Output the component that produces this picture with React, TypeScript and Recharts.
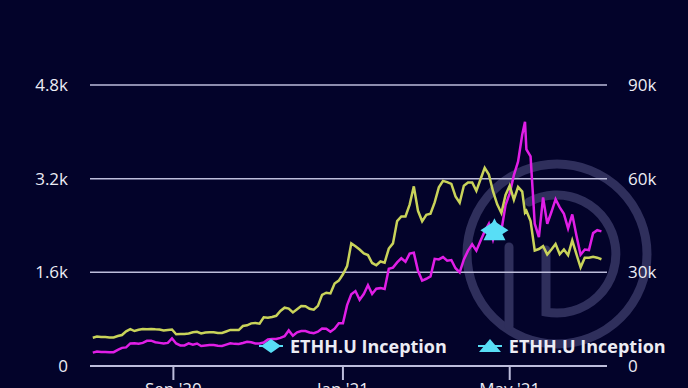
import React from 'react';
import { ComposedChart, Line, Scatter, XAxis, YAxis, CartesianGrid, Legend } from 'recharts';

const dates = [
  '2020-07-05', '2020-07-08', '2020-07-11', '2020-07-14', '2020-07-17', '2020-07-20', '2020-07-23', '2020-07-26', '2020-07-29',
  '2020-08-01', '2020-08-04', '2020-08-07', '2020-08-10', '2020-08-13', '2020-08-16', '2020-08-19', '2020-08-22', '2020-08-25', '2020-08-28', '2020-08-31',
  '2020-09-03', '2020-09-06', '2020-09-09', '2020-09-12', '2020-09-15', '2020-09-18', '2020-09-21', '2020-09-24', '2020-09-27', '2020-09-30',
  '2020-10-03', '2020-10-06', '2020-10-09', '2020-10-12', '2020-10-15', '2020-10-18', '2020-10-21', '2020-10-24', '2020-10-27', '2020-10-30',
  '2020-11-02', '2020-11-05', '2020-11-08', '2020-11-11', '2020-11-14', '2020-11-17', '2020-11-20', '2020-11-23', '2020-11-26', '2020-11-29',
  '2020-12-02', '2020-12-05', '2020-12-08', '2020-12-11', '2020-12-14', '2020-12-17', '2020-12-20', '2020-12-23', '2020-12-26', '2020-12-29',
  '2021-01-01', '2021-01-04', '2021-01-07', '2021-01-10', '2021-01-13', '2021-01-16', '2021-01-19', '2021-01-22', '2021-01-25', '2021-01-28', '2021-01-31',
  '2021-02-03', '2021-02-06', '2021-02-09', '2021-02-12', '2021-02-15', '2021-02-18', '2021-02-21', '2021-02-24', '2021-02-27',
  '2021-03-02', '2021-03-05', '2021-03-08', '2021-03-11', '2021-03-14', '2021-03-17', '2021-03-20', '2021-03-23', '2021-03-26', '2021-03-29',
  '2021-04-01', '2021-04-04', '2021-04-07', '2021-04-10', '2021-04-13', '2021-04-16', '2021-04-19', '2021-04-22', '2021-04-25', '2021-04-28',
  '2021-05-01', '2021-05-04', '2021-05-07', '2021-05-10', '2021-05-12', '2021-05-13', '2021-05-16', '2021-05-19', '2021-05-22', '2021-05-25', '2021-05-28', '2021-05-31',
  '2021-06-03', '2021-06-06', '2021-06-09', '2021-06-12', '2021-06-15', '2021-06-18', '2021-06-21', '2021-06-24', '2021-06-27', '2021-06-30',
  '2021-07-03', '2021-07-06',
];

// ETH (left axis, USD)
const ethPrices = [
  228, 246, 240, 240, 233, 236, 275, 310, 318,
  386, 390, 380, 395, 430, 433, 406, 395, 383, 395, 470,
  385, 352, 351, 387, 364, 384, 341, 349, 357, 359,
  346, 341, 365, 387, 378, 377, 392, 412, 404, 386,
  383, 401, 453, 462, 460, 480, 510, 608, 518, 575,
  598, 596, 573, 560, 586, 640, 638, 585, 637, 732,
  730, 1040, 1225, 1280, 1130, 1230, 1380, 1230, 1320, 1330, 1315,
  1660, 1680, 1770, 1840, 1780, 1920, 1935, 1625, 1460,
  1490, 1530, 1830, 1820, 1860, 1800, 1810, 1670, 1600, 1820,
  1970, 2080, 1970, 2140, 2300, 2430, 2160, 2400, 2310, 2750,
  2950, 3260, 3490, 3950, 4170, 3700, 3580, 2430, 2200, 2880, 2430, 2630,
  2850, 2710, 2600, 2350, 2590, 2230, 1900, 1990, 1980, 2270,
  2320, 2300,
];

// BTC (right axis, USD)
const btcPrices = [
  9070, 9430, 9280, 9250, 9150, 9160, 9600, 9930, 11100,
  11800, 11200, 11600, 11880, 11760, 11850, 11750, 11680, 11360, 11530, 11680,
  10170, 10280, 10230, 10440, 10790, 10940, 10420, 10730, 10780, 10780,
  10570, 10600, 11060, 11550, 11500, 11500, 12800, 13030, 13650, 13800,
  13550, 15600, 15480, 15700, 16070, 17650, 18680, 18400, 17150, 18180,
  19200, 19150, 18320, 18040, 19250, 22800, 23480, 23240, 26440, 27360,
  29370, 31970, 39270, 38360, 37320, 36070, 35530, 33000, 32270, 33470, 33110,
  37620, 39270, 46400, 47900, 47900, 51680, 57540, 49700, 46340,
  48440, 48780, 52390, 57220, 59300, 58900, 58330, 54340, 52300, 57750,
  58800, 58760, 56100, 59800, 63500, 61340, 55900, 51760, 49000, 54800,
  57800, 53250, 57350, 55860, 49150, 49720, 46430, 37000, 37470, 38400, 35700, 37300,
  39100, 35800, 37300, 35500, 40200, 35800, 31600, 34700, 34700, 35000,
  34700, 34200,
];

const inceptionDate = '2021-04-20';
const inceptionPrice = 2320;
const legendLabel = 'ETHH.U Inception';

const xTicks = ['2020-09-01', '2021-01-01', '2021-05-01'];
const xTickLabels = ["Sep '20", "Jan '21", "May '21"];
const leftTicks = [0, 1600, 3200, 4800];
const rightTicks = [0, 30000, 60000, 90000];

const toTime = (d: string) => Date.parse(d + 'T00:00:00Z');

const rows = dates.map((d, i) => ({ t: toTime(d), eth: ethPrices[i], btc: btcPrices[i] }));
const inception = [{ t: toTime(inceptionDate), v: inceptionPrice }];

const BG = '#03032a';
const GRID = '#bdbddb';
const TEXT = '#ececf4';
const CYAN = '#58def6';
const MAGENTA = '#e01ee6';
const OLIVE = '#c9d35a';

const kFmt = (v: number) => (v === 0 ? '0' : `${v / 1000}k`);

const Diamond = (props: any) => {
  const { cx, cy } = props;
  return <polygon points={`${cx - 14},${cy} ${cx},${cy - 9} ${cx + 14},${cy} ${cx},${cy + 9}`} fill={CYAN} />;
};

const Triangle = (props: any) => {
  const { cx, cy } = props;
  return <polygon points={`${cx},${cy - 12} ${cx + 11},${cy + 10} ${cx - 11},${cy + 10}`} fill={CYAN} />;
};

const LegendIcon = ({ kind }: { kind: string }) => (
  <svg width={24} height={18} style={{ display: 'block' }}>
    <line x1={0} y1={9} x2={24} y2={9} stroke={CYAN} strokeWidth={2} />
    {kind === 'diamond' ? (
      <polygon points="2,9 12,2 22,9 12,16" fill={CYAN} />
    ) : (
      <polygon points="12,2 23,15 1,15" fill={CYAN} />
    )}
  </svg>
);

const renderLegend = (props: any) => {
  const items = (props.payload || []).filter((p: any) => p.type === 'diamond' || p.type === 'triangle');
  return (
    <div style={{ display: 'flex', alignItems: 'center', gap: 31 }}>
      {items.map((p: any, i: number) => (
        <div key={i} style={{ display: 'flex', alignItems: 'center', gap: 7 }}>
          <LegendIcon kind={p.type} />
          <span style={{ color: TEXT, fontWeight: 700, fontSize: 18, fontFamily: '"Open Sans", sans-serif' }}>{p.value}</span>
        </div>
      ))}
    </div>
  );
};

const Watermark = () => (
  <svg width={688} height={388} style={{ position: 'absolute', left: 0, top: 0 }}>
    <g fill="none" stroke="#2f2f5c" strokeWidth={9} strokeLinecap="round">
      <circle cx={557} cy={254} r={90} />
      <path d="M 529 202 A 59 59 0 1 1 546 312 L 546 250" />
      <line x1={509} y1={247} x2={509} y2={326} />
    </g>
  </svg>
);

export default function App() {
  return (
    <div
      style={{
        position: 'fixed',
        left: 0,
        top: 0,
        width: 688,
        height: 388,
        overflow: 'hidden',
        background: BG,
        fontFamily: '"Open Sans", sans-serif',
      }}
    >
      <Watermark />
      <div style={{ position: 'absolute', left: 0, top: 0 }}>
        <ComposedChart width={688} height={410} data={rows} margin={{ top: 85, right: 0, bottom: 14, left: 0 }}>
          <CartesianGrid yAxisId="left" vertical={false} stroke={GRID} strokeWidth={1.5} />
          <XAxis
            dataKey="t"
            type="number"
            domain={[toTime('2020-07-03'), toTime('2021-07-10')]}
            ticks={xTicks.map(toTime)}
            tickFormatter={(v: number) => xTickLabels[xTicks.map(toTime).indexOf(v)]}
            height={30}
            stroke={GRID}
            strokeWidth={2}
            tickSize={14}
            tickMargin={3}
            tick={{ fill: TEXT, fontSize: 17 }}
          />
          <YAxis
            yAxisId="left"
            orientation="left"
            width={90}
            domain={[0, 4800]}
            ticks={leftTicks}
            tickFormatter={kFmt}
            axisLine={false}
            tickLine={false}
            tickSize={0}
            tickMargin={22}
            tick={{ fill: TEXT, fontSize: 17 }}
          />
          <YAxis
            yAxisId="right"
            orientation="right"
            width={81}
            domain={[0, 90000]}
            ticks={rightTicks}
            tickFormatter={kFmt}
            axisLine={false}
            tickLine={false}
            tickSize={0}
            tickMargin={21}
            tick={{ fill: TEXT, fontSize: 17 }}
          />
          <Line
            yAxisId="left"
            dataKey="eth"
            type="linear"
            stroke={MAGENTA}
            strokeWidth={2.5}
            dot={false}
            legendType="none"
            isAnimationActive={false}
          />
          <Line
            yAxisId="right"
            dataKey="btc"
            type="linear"
            stroke={OLIVE}
            strokeWidth={2.5}
            dot={false}
            legendType="none"
            isAnimationActive={false}
          />
          <Scatter
            yAxisId="left"
            name={legendLabel}
            data={inception}
            dataKey="v"
            fill={CYAN}
            shape={Diamond}
            legendType="diamond"
            isAnimationActive={false}
          />
          <Scatter
            yAxisId="left"
            name={legendLabel}
            data={inception}
            dataKey="v"
            fill={CYAN}
            shape={Triangle}
            legendType="triangle"
            isAnimationActive={false}
          />
          <Legend
            content={renderLegend}
            layout="horizontal"
            verticalAlign="middle"
            align="center"
            wrapperStyle={{ left: 259, top: 334, width: 'auto', bottom: 'auto' }}
          />
        </ComposedChart>
      </div>
    </div>
  );
}
